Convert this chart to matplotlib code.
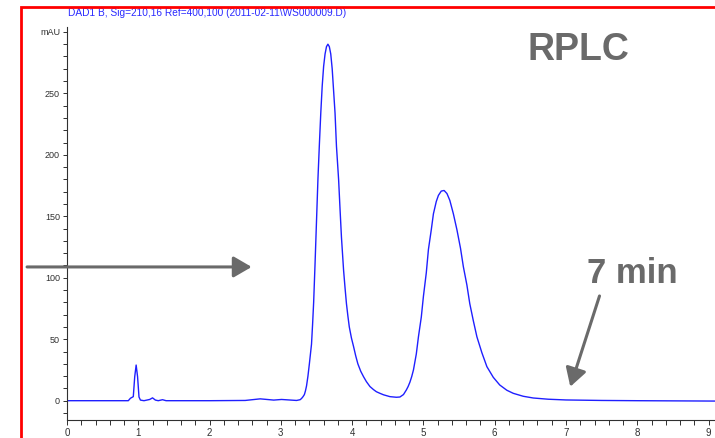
import matplotlib
matplotlib.use("Agg")
import matplotlib.pyplot as plt
from matplotlib.patches import Rectangle
from matplotlib.ticker import MultipleLocator

# chromatogram (time in min, signal in mAU)
time_min = [0.00, 0.50, 0.86, 0.89, 0.93, 0.95, 0.97, 0.99, 1.01, 1.03, 1.08,
            1.16, 1.20, 1.24, 1.28, 1.34, 1.39, 2.00, 2.50, 2.71, 2.90, 3.01,
            3.22, 3.27, 3.29, 3.31, 3.33, 3.345, 3.36, 3.38, 3.40, 3.415, 3.43,
            3.445, 3.46, 3.48, 3.50, 3.52, 3.54, 3.56, 3.58, 3.60, 3.62, 3.64,
            3.66, 3.68, 3.70, 3.72, 3.74, 3.76, 3.78, 3.81, 3.83, 3.85, 3.88,
            3.90, 3.92, 3.94, 3.96, 3.99, 4.02, 4.05, 4.08, 4.12, 4.16, 4.20,
            4.25, 4.30, 4.34, 4.39, 4.44, 4.53, 4.62, 4.67, 4.72, 4.76, 4.785,
            4.81, 4.835, 4.86, 4.90, 4.93, 4.97, 5.00, 5.04, 5.07, 5.11, 5.14,
            5.18, 5.21, 5.25, 5.29, 5.33, 5.37, 5.42, 5.47, 5.52, 5.56, 5.61,
            5.65, 5.70, 5.75, 5.82, 5.89, 5.98, 6.07, 6.17, 6.26, 6.40, 6.54,
            6.75, 7.00, 7.50, 8.00, 9.09]
signal_mau = [0.0, 0.0, 0.0, 2.0, 3.3, 19.5, 29.0, 19.5, 3.0, 0.5, 0.0,
              1.0, 2.3, 0.5, 0.0, 0.8, 0.0, 0.0, 0.2, 1.5, 0.5, 1.0,
              0.2, 0.8, 1.8, 3.2, 5.0, 8.0, 12.0, 20.0, 30.0, 38.0, 46.0,
              62.0, 80.0, 112.0, 146.0, 180.0, 208.0, 234.0, 256.0, 272.0, 282.0, 288.0,
              290.0, 288.0, 282.0, 270.0, 252.0, 234.0, 207.0, 180.0, 156.0, 133.0, 106.0,
              92.0, 79.0, 69.0, 60.0, 51.0, 44.0, 36.5, 30.0, 24.0, 19.5, 15.5,
              11.5, 9.0, 7.3, 6.0, 4.8, 3.3, 2.8, 3.0, 5.0, 8.7, 11.5,
              15.0, 19.5, 25.0, 38.0, 52.0, 68.0, 85.0, 104.0, 123.0, 139.0, 152.0,
              162.0, 167.0, 170.5, 171.0, 168.5, 163.0, 152.0, 139.0, 124.0, 109.0, 94.0,
              79.0, 65.0, 52.0, 39.0, 27.7, 19.0, 12.8, 8.5, 6.0, 3.6, 2.2,
              1.2, 0.6, 0.2, 0.0, -0.3]

y_ticks = [0, 50, 100, 150, 200, 250, 300]
y_labels = ["0", "50", "100", "150", "200", "250", "mAU"]
x_ticks = list(range(0, 10))

title = "DAD1 B, Sig=210,16 Ref=400,100 (2011-02-11\\WS000009.D)"
gray = "#6a6a6a"

fig = plt.figure(figsize=(7.15, 4.38), dpi=100, facecolor="white")
ax = fig.add_axes([0.0937, 0.0411, 0.9063, 0.8973])

ax.plot(time_min, signal_mau, color="#1f1fff", lw=1.0)

ax.set_xlim(0, 9.09)
ax.set_ylim(-15.7, 304)

for s in ["top", "right"]:
    ax.spines[s].set_visible(False)
for s in ["left", "bottom"]:
    ax.spines[s].set_linewidth(0.8)
    ax.spines[s].set_color("#303030")

ax.set_yticks(y_ticks)
ax.set_yticklabels(y_labels)
ax.yaxis.set_minor_locator(MultipleLocator(10))
ax.set_xticks(x_ticks)
ax.xaxis.set_minor_locator(MultipleLocator(0.2))
ax.tick_params(axis="y", which="both", direction="out", length=3, width=0.7,
               labelsize=6.5, pad=2, colors="#303030")
ax.tick_params(axis="x", which="both", direction="out", length=3.5, width=0.7,
               labelsize=7, pad=2.5, colors="#303030")
for lab in ax.get_xticklabels() + ax.get_yticklabels():
    lab.set_family(["Liberation Sans Narrow", "Liberation Sans", "DejaVu Sans"])

fig.text(68 / 715, 1 - 13 / 438, title, color="#2a2aff", fontsize=7.3,
         family=["Liberation Sans Narrow", "Liberation Sans"], va="center", ha="left")

fig.text(527 / 715, 1 - 50 / 438, "RPLC", color=gray, fontsize=27, fontweight="bold",
         family=["Liberation Sans", "DejaVu Sans"], va="center", ha="left")
fig.text(587 / 715, 1 - 283 / 438, "7 min", color=gray, fontsize=25, fontweight="bold",
         family=["Liberation Sans", "DejaVu Sans"], va="baseline", ha="left")

arrow = dict(arrowstyle="-|>,head_length=0.55,head_width=0.32", color=gray,
             lw=2.2, mutation_scale=20, shrinkA=0, shrinkB=0)
ax.annotate("", xy=(2.59, 108.8), xytext=(-0.56, 108.8), arrowprops=arrow,
            annotation_clip=False)
ax.annotate("", xy=(7.06, 11.4), xytext=(7.47, 85.2), arrowprops=arrow,
            annotation_clip=False)

# red frame around the slide image
fig.patches.append(Rectangle((20.5 / 715, -0.1), 1.2, 1 - 6.5 / 438 + 0.1,
                             transform=fig.transFigure, fill=False,
                             edgecolor="#ff0000", lw=2.0, zorder=10))

fig.savefig("out.png", dpi=100)
